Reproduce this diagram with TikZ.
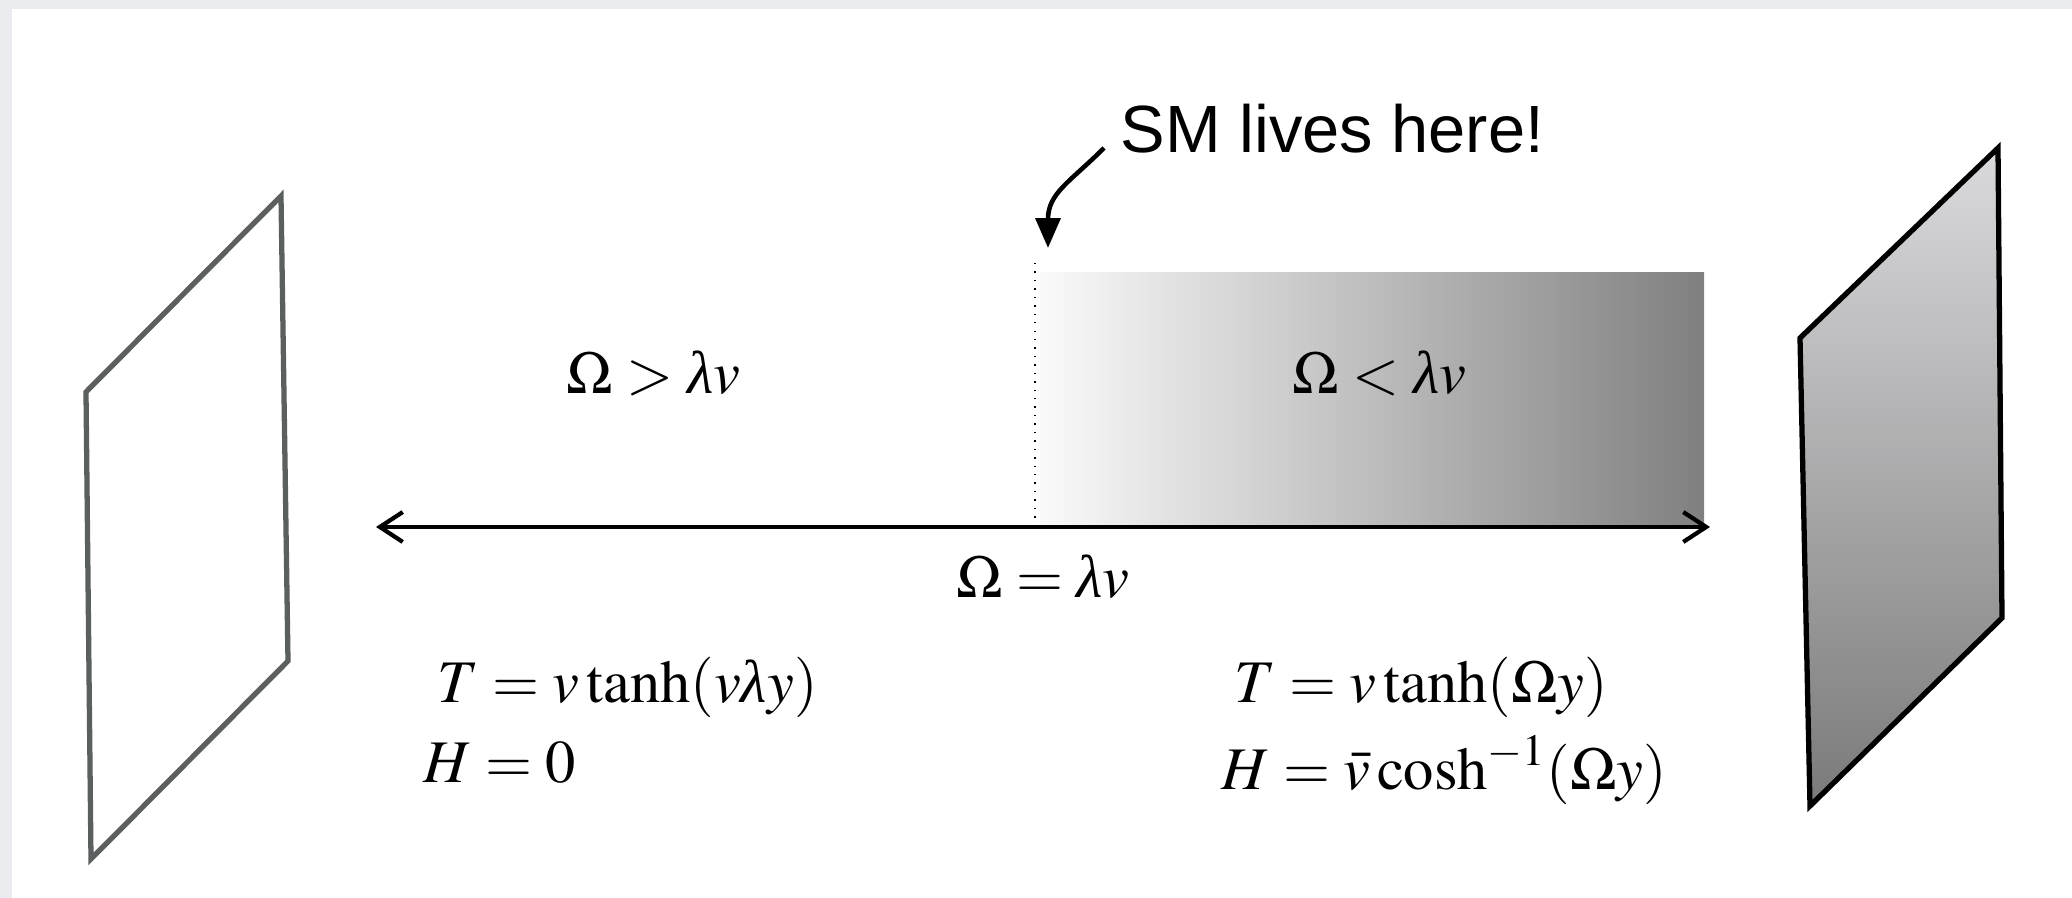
\documentclass[tikz,border=0pt]{standalone}
\usepackage{amsmath}
\usepackage{mathptmx}
\usepackage[no-math]{fontspec}
\setmainfont{Liberation Serif}
\newfontfamily\smfont{Liberation Sans}
\usepackage{tikz}
\usetikzlibrary{arrows.meta,positioning,calc}

\definecolor{framegray}{HTML}{E9EBEE}
\definecolor{branegray}{HTML}{5B5F5F}
\definecolor{shadelight}{HTML}{DADADD}
\definecolor{shadedark}{HTML}{7A7A7A}
\newcommand{\lam}{\text{\normalfont\itshape λ}}

\begin{document}
\begin{tikzpicture}[x=0.01cm, y=-0.01cm,
    brane/.style={line width=1.5pt, line join=miter},
    eqlabel/.style={inner sep=0pt, anchor=base west, font=\fontsize{17.2}{20}\selectfont},
    axisarrow/.style={line width=1.2pt, {Straight Barb[length=6.5pt,width=8.5pt,line width=1.2pt]}-{Straight Barb[length=6.5pt,width=8.5pt,line width=1.2pt]}},
    pointer/.style={line width=1.3pt, -{Triangle[length=8.5pt,width=7pt]}}]
    % Frame
    \useasboundingbox (0,0) rectangle (2072,898);
    \fill[framegray] (0,0) rectangle (2072,898);
    \fill[white] (12,9) rectangle (2072,898);

    % UV brane (empty) and IR brane (shaded)
    \draw[brane, branegray] (281,196) -- (86,392) -- (91,859) -- (288,661) -- cycle;
    \draw[brane, black, top color=shadelight, bottom color=shadedark]
        (1998,148) -- (1800,338) -- (1810,806) -- (2002,618) -- cycle;

    % Shaded bulk region
    \shade[left color=white!98!black, right color=black!50] (1040,273) rectangle (1704,527);
    \draw[dotted, thin] (1035,263) -- (1035,527);

    % Extra dimension
    \coordinate (yleft) at (376,527);
    \coordinate (yright) at (1710,527);
    \draw[axisarrow] (yleft) -- (yright);

    % Labels
    \node[eqlabel] (bigomega) at (566,394) {$\Omega > \lam v$};
    \node[eqlabel] (smallomega) at (1292,394) {$\Omega < \lam v$};
    \node[eqlabel, anchor=base] (eqomega) at (1043,598) {$\Omega = \lam v$};

    \node[eqlabel] (tleft) at (437,703) {$T = v\tanh(v\lam y)$};
    \node[eqlabel] (hleft) at (423,783) {$H = 0$};
    \node[eqlabel] (tright) at (1234,703) {$T = v\tanh(\Omega y)$};
    \node[eqlabel] (hright) at (1221,790) {$H = \bar{v}\cosh^{-1}(\Omega y)$};

    % SM pointer
    \node[inner sep=0pt, anchor=base west, font=\smfont\fontsize{19}{22}\selectfont] (smlabel) at (1120,153) {SM lives here!};
    \coordinate (smfrom) at (1104,148);
    \coordinate (smto) at (1048,248);
    \draw[pointer] (smfrom) .. controls +(-34,34) and +(0,-55) .. (smto);
\end{tikzpicture}
\end{document}
